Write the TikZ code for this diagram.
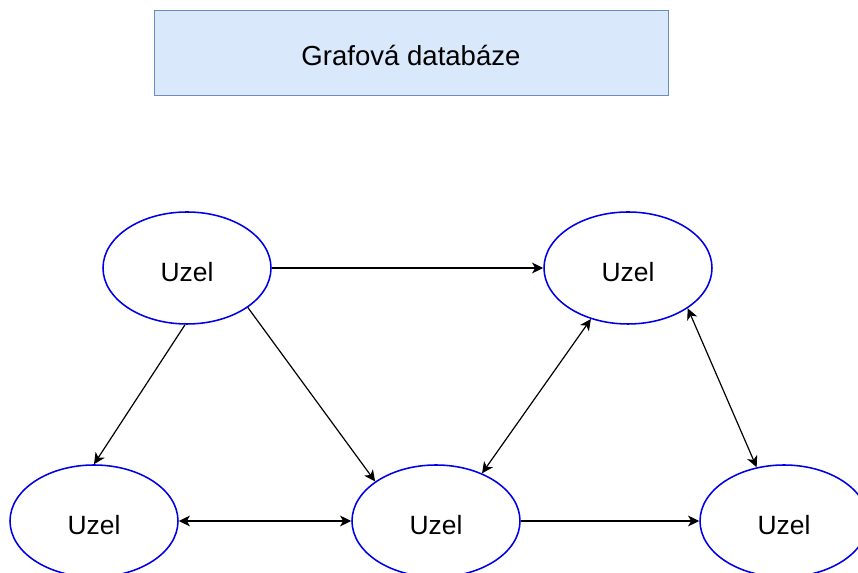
\documentclass[tikz,border=0pt]{standalone}
\usepackage{fontspec}
\setmainfont{Liberation Sans}
\usetikzlibrary{arrows.meta, shapes.geometric}

\definecolor{boxfill}{HTML}{DAE8FC}
\definecolor{boxline}{HTML}{6C8EBF}
\definecolor{nodeline}{HTML}{0000E6}

\begin{document}
\begin{tikzpicture}[
    every node/.style={font=\fontsize{18.8}{22}\selectfont, text height=19pt, text depth=0pt},
    arrow/.style={-{Stealth[length=2.8mm, width=2.7mm, inset=0.8mm]}, line width=0.85pt},
    biarrow/.style={{Stealth[length=2.8mm, width=2.7mm, inset=0.8mm]}-{Stealth[length=2.8mm, width=2.7mm, inset=0.8mm]}, line width=0.85pt},
    uzel/.style={ellipse, draw=nodeline, line width=1.1pt, minimum width=4.2cm, minimum height=2.8cm, inner sep=0pt},
    title/.style={draw=boxline, fill=boxfill, line width=0.7pt, minimum width=12.85cm, minimum height=2.125cm,
        font=\fontsize{19.6}{22}\selectfont}
]
\useasboundingbox (0, 0) rectangle (21.45, 14.325);

% ============ HEADER ============
\node[title] (db) at (10.275, 13.01) {Grafová databáze};

% ============ NODES ============
\node[uzel] (tl) at (4.675, 7.625) {Uzel};
\node[uzel] (tr) at (15.7, 7.625) {Uzel};
\node[uzel] (bl) at (2.35, 1.3) {Uzel};
\node[uzel] (bm) at (10.9, 1.3) {Uzel};
\node[uzel] (br) at (19.6, 1.3) {Uzel};

% ============ EDGES ============
\draw[arrow] (tl.east) -- (tr.west);
\draw[arrow] (tl.-92) -- (bl.north);
\draw[arrow] (tl.-33) -- (bm.147);
\draw[biarrow] (bl.east) -- (bm.west);
\draw[arrow] (bm.east) -- (br.west);
\draw[biarrow] (tr.-126) -- (bm.46);
\draw[biarrow] (tr.-34) -- (br.117);

\end{tikzpicture}
\end{document}
